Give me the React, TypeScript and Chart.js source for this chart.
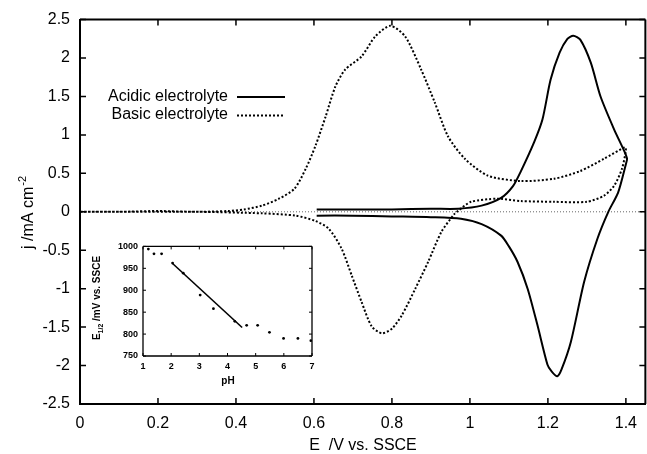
import React, { useEffect, useRef } from "react";
import { Chart, registerables } from "chart.js";
Chart.register(...registerables);

// ---- main chart data (E in V vs SSCE, j in mA cm^-2) ----
const acidicE = [0.607, 0.7, 0.8, 0.9, 0.97, 1.03, 1.08, 1.11, 1.13, 1.165, 1.186, 1.207, 1.23, 1.25, 1.265, 1.283, 1.31, 1.335, 1.37, 1.395, 1.403, 1.4,
  1.38, 1.355, 1.327, 1.293, 1.259, 1.235, 1.224, 1.21, 1.199, 1.173, 1.148, 1.122, 1.1, 1.08, 1.03, 0.977, 0.9, 0.8, 0.7, 0.607];
const acidicJ = [0.03, 0.03, 0.03, 0.04, 0.04, 0.08, 0.18, 0.33, 0.52, 0.91, 1.2, 1.72, 2.07, 2.25, 2.29, 2.24, 1.94, 1.5, 1.07, 0.8, 0.69, 0.62,
  0.25, 0.0, -0.35, -0.91, -1.69, -2.05, -2.14, -2.08, -1.99, -1.47, -1.0, -0.65, -0.45, -0.31, -0.16, -0.09, -0.07, -0.06, -0.05, -0.05];

const basicE = [0, 0.1, 0.2, 0.3, 0.38, 0.42, 0.467, 0.51, 0.55, 0.579, 0.604, 0.63, 0.655, 0.68, 0.722, 0.757, 0.796, 0.834, 0.875, 0.91, 0.944, 0.987, 1.046, 1.13, 1.216, 1.283, 1.344, 1.398, 1.4,
  1.39, 1.37, 1.344, 1.3, 1.216, 1.13, 1.07, 1.003, 0.969, 0.96, 0.927, 0.893, 0.86, 0.825, 0.8, 0.774, 0.748, 0.722, 0.697, 0.671, 0.638, 0.604, 0.553, 0.467, 0.3, 0.1, 0];
const basicJ = [0, 0, 0.01, 0, 0.01, 0.03, 0.08, 0.17, 0.3, 0.56, 0.86, 1.24, 1.63, 1.85, 2.02, 2.28, 2.42, 2.28, 1.85, 1.42, 0.98, 0.69, 0.47, 0.4, 0.43, 0.53, 0.69, 0.84, 0.8,
  0.56, 0.34, 0.21, 0.13, 0.13, 0.14, 0.17, 0.13, 0.01, -0.03, -0.26, -0.65, -1.0, -1.35, -1.52, -1.58, -1.49, -1.17, -0.83, -0.48, -0.22, -0.12, -0.05, -0.02, 0, 0, 0];

const zeroLineE = [0, 1.45];
const zeroLineJ = [0, 0];

const xTicks = [0, 0.2, 0.4, 0.6, 0.8, 1, 1.2, 1.4];
const yTicks = [-2.5, -2, -1.5, -1, -0.5, 0, 0.5, 1, 1.5, 2, 2.5];
const legendLabels = ["Acidic electrolyte", "Basic electrolyte"];

// ---- inset data (E1/2 in mV vs SSCE against pH) ----
const insetPH = [1.19, 1.39, 1.66, 2.05, 2.43, 3.03, 3.5, 4.26, 4.68, 5.07, 5.49, 5.99, 6.5, 6.96];
const insetE = [994, 983, 983, 962, 939, 889, 858, 829, 820, 820, 804, 790, 790, 785];
const fitPH = [2.05, 4.52];
const fitE = [961, 815];
const insetXTicks = [1, 2, 3, 4, 5, 6, 7];
const insetYTicks = [750, 800, 850, 900, 950, 1000];

const FONT = "'Liberation Sans', Arial, Helvetica, sans-serif";

function drawFrame(chart: any, tickLen: number, lw: number) {
  const ctx = chart.ctx;
  const a = chart.chartArea;
  const xs = chart.scales.x;
  const ys = chart.scales.y;
  const L = a.left, T = a.top, B = a.bottom;
  const R = Math.min(a.right, chart.width - 1);
  ctx.save();
  ctx.globalAlpha = 1;
  ctx.globalCompositeOperation = "source-over";
  ctx.setLineDash([]);
  ctx.strokeStyle = "#000";
  ctx.lineWidth = lw;
  ctx.beginPath();
  ctx.moveTo(L, T); ctx.lineTo(R, T);
  ctx.moveTo(L, B); ctx.lineTo(R, B);
  ctx.moveTo(L, T); ctx.lineTo(L, B);
  ctx.moveTo(R, T); ctx.lineTo(R, B);
  ctx.stroke();
  ctx.lineWidth = Math.max(1, lw - 0.5);
  ctx.beginPath();
  xs.ticks.forEach((t: any) => {
    const p = xs.getPixelForValue(t.value);
    ctx.moveTo(p, B); ctx.lineTo(p, B - tickLen);
    ctx.moveTo(p, T); ctx.lineTo(p, T + tickLen);
  });
  ys.ticks.forEach((t: any) => {
    const p = ys.getPixelForValue(t.value);
    ctx.moveTo(L, p); ctx.lineTo(L + tickLen, p);
    ctx.moveTo(R, p); ctx.lineTo(R - tickLen, p);
  });
  ctx.stroke();
  ctx.restore();
}

function insetDecor() {
  return {
    id: "insetDecor",
    afterDraw(chart: any) {
      drawFrame(chart, 3, 1.3);
      const { ctx } = chart;
      ctx.save();
      ctx.fillStyle = "#000";
      ctx.font = `bold 10px ${FONT}`;
      ctx.textAlign = "center";
      ctx.textBaseline = "alphabetic";
      ctx.fillText("pH", 148, 148);
      ctx.translate(20, 62);
      ctx.rotate(-Math.PI / 2);
      const a = "E", b = "1/2", c = " /mV vs. SSCE";
      ctx.font = `bold 10px ${FONT}`;
      const wa = ctx.measureText(a).width;
      const wc = ctx.measureText(c).width;
      ctx.font = `bold 7px ${FONT}`;
      const wb = ctx.measureText(b).width;
      let x = -(wa + wb + wc) / 2;
      ctx.textAlign = "left";
      ctx.font = `bold 10px ${FONT}`;
      ctx.fillText(a, x, 0);
      x += wa;
      ctx.font = `bold 7px ${FONT}`;
      ctx.fillText(b, x, 3);
      x += wb;
      ctx.font = `bold 10px ${FONT}`;
      ctx.fillText(c, x, 0);
      ctx.restore();
    },
  };
}

function mainDecor(insetCanvas: HTMLCanvasElement) {
  return {
    id: "mainDecor",
    afterDraw(chart: any) {
      const { ctx } = chart;
      // inset chart (rendered by its own Chart.js instance) placed inside the main plot
      ctx.drawImage(insetCanvas, 80, 236);
      drawFrame(chart, 6, 2);
      ctx.save();
      ctx.fillStyle = "#000";
      ctx.font = `16px ${FONT}`;
      ctx.textAlign = "right";
      ctx.textBaseline = "middle";
      ctx.fillText(legendLabels[0], 228, 97);
      ctx.fillText(legendLabels[1], 228, 115);
      ctx.strokeStyle = "#000";
      ctx.lineWidth = 2;
      ctx.beginPath();
      ctx.moveTo(237, 97); ctx.lineTo(285, 97);
      ctx.stroke();
      ctx.setLineDash([2, 2]);
      ctx.beginPath();
      ctx.moveTo(237, 115.5); ctx.lineTo(284, 115.5);
      ctx.stroke();
      ctx.setLineDash([]);
      ctx.textAlign = "center";
      ctx.textBaseline = "alphabetic";
      ctx.font = `16px ${FONT}`;
      ctx.fillText("E  /V vs. SSCE", 363, 450);
      ctx.translate(33, 213);
      ctx.rotate(-Math.PI / 2);
      const main = "j /mA cm";
      const sup = "-2";
      ctx.font = `16px ${FONT}`;
      const w1 = ctx.measureText(main).width;
      ctx.font = `11px ${FONT}`;
      const w2 = ctx.measureText(sup).width;
      const start = -(w1 + w2) / 2;
      ctx.textAlign = "left";
      ctx.font = `16px ${FONT}`;
      ctx.fillText(main, start, 0);
      ctx.font = `11px ${FONT}`;
      ctx.fillText(sup, start + w1 + 1, -7);
      ctx.restore();
    },
  };
}

export default function App() {
  const mainRef = useRef<HTMLCanvasElement>(null);

  useEffect(() => {
    // inset chart on its own (off-page) canvas
    const insetCanvas = document.createElement("canvas");
    insetCanvas.width = 245;
    insetCanvas.height = 155;
    const insetChart = new Chart(insetCanvas, {
      type: "scatter",
      data: {
        datasets: [
          {
            data: insetPH.map((p, i) => ({ x: p, y: insetE[i] })),
            backgroundColor: "#000",
            borderColor: "#000",
            pointRadius: 1.4,
            pointBorderWidth: 0,
            showLine: false,
          },
          {
            data: fitPH.map((p, i) => ({ x: p, y: fitE[i] })),
            borderColor: "#000",
            borderWidth: 1.6,
            pointRadius: 0,
            showLine: true,
          },
        ],
      },
      options: {
        responsive: false,
        animation: false,
        devicePixelRatio: 1,
        layout: { padding: { top: 8, right: 13, left: 0, bottom: 0 } },
        plugins: { legend: { display: false }, tooltip: { enabled: false } },
        scales: {
          x: {
            min: 1,
            max: 7,
            grid: { display: false, drawTicks: false },
            border: { display: false },
            afterBuildTicks: (s: any) => { s.ticks = insetXTicks.map((v) => ({ value: v })); },
            afterFit: (s: any) => { s.height = 35; },
            ticks: { color: "#000", padding: 5, maxRotation: 0, font: { family: FONT, size: 9, weight: "bold" }, callback: (v: any) => String(v) },
          },
          y: {
            min: 750,
            max: 1000,
            grid: { display: false, drawTicks: false },
            border: { display: false },
            afterBuildTicks: (s: any) => { s.ticks = insetYTicks.map((v) => ({ value: v })); },
            afterFit: (s: any) => { s.width = 63; },
            ticks: { color: "#000", padding: 5, font: { family: FONT, size: 9, weight: "bold" }, callback: (v: any) => String(v) },
          },
        },
      },
      plugins: [insetDecor()],
    } as any);

    const mainChart = new Chart(mainRef.current as HTMLCanvasElement, {
      type: "scatter",
      data: {
        datasets: [
          {
            label: legendLabels[0],
            data: acidicE.map((e, i) => ({ x: e, y: acidicJ[i] })),
            showLine: true,
            borderColor: "#000",
            borderWidth: 2,
            pointRadius: 0,
            tension: 0.25,
          },
          {
            label: legendLabels[1],
            data: basicE.map((e, i) => ({ x: e, y: basicJ[i] })),
            showLine: true,
            borderColor: "#000",
            borderWidth: 2,
            borderDash: [2, 2],
            pointRadius: 0,
            tension: 0.25,
          },
          {
            label: "zero",
            data: zeroLineE.map((e, i) => ({ x: e, y: zeroLineJ[i] })),
            showLine: true,
            borderColor: "#666",
            borderWidth: 1,
            borderDash: [1, 2],
            pointRadius: 0,
          },
        ],
      },
      options: {
        responsive: false,
        animation: false,
        layout: { padding: { top: 19 } },
        plugins: { legend: { display: false } },
        scales: {
          x: {
            min: 0,
            max: 1.45,
            grid: { display: false, drawTicks: false },
            border: { display: true, color: "#000", width: 2 },
            afterBuildTicks: (s: any) => { s.ticks = xTicks.map((v) => ({ value: v })); },
            afterFit: (s: any) => { s.height = 50; },
            ticks: { padding: 10, color: "#000", maxRotation: 0, font: { family: FONT, size: 16 }, callback: (v: any) => String(v) },
          },
          y: {
            min: -2.5,
            max: 2.5,
            grid: { display: false, drawTicks: false },
            border: { display: true, color: "#000", width: 2 },
            afterBuildTicks: (s: any) => { s.ticks = yTicks.map((v) => ({ value: v })); },
            afterFit: (s: any) => { s.width = 80; },
            ticks: { padding: 10, color: "#000", font: { family: FONT, size: 16 }, callback: (v: any) => String(v) },
          },
        },
      },
      plugins: [mainDecor(insetCanvas)],
    } as any);

    return () => {
      mainChart.destroy();
      insetChart.destroy();
    };
  }, []);

  return (
    <div style={{ position: "fixed", left: 0, top: 0, width: 647, height: 454, background: "#fff" }}>
      <canvas ref={mainRef} width={647} height={454} style={{ position: "absolute", left: 0, top: 0 }} />
    </div>
  );
}
